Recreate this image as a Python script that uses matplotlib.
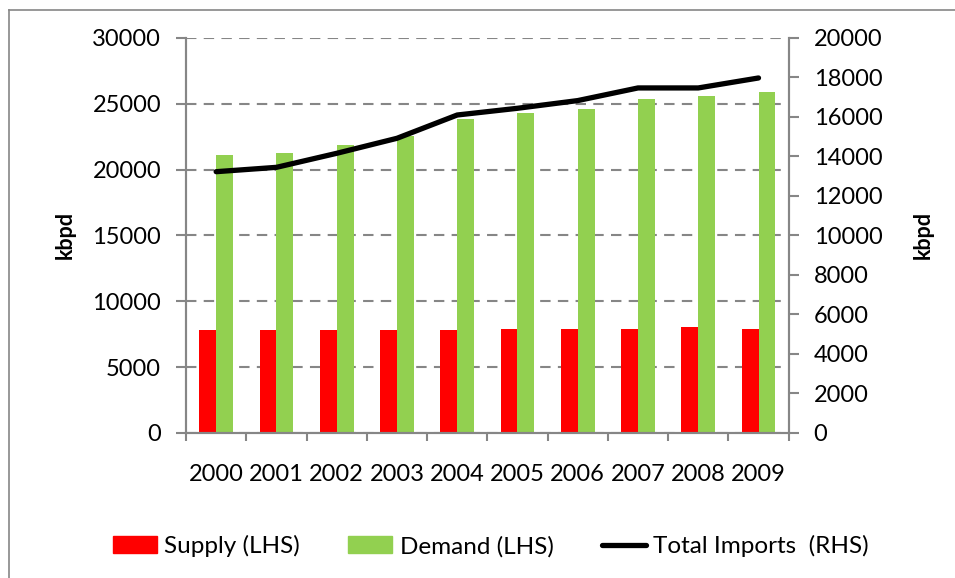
import matplotlib
matplotlib.use("Agg")
import matplotlib.pyplot as plt
import numpy as np
from matplotlib.patches import Rectangle

# ==========================
# Data
# ==========================

years = ["2000", "2001", "2002", "2003", "2004",
         "2005", "2006", "2007", "2008", "2009"]

supply = [7800, 7800, 7800, 7800, 7800, 7930, 7930, 7930, 8080, 7930]

demand = [21080, 21260, 21840, 22550, 23810,
          24270, 24570, 25330, 25630, 25930]

total_imports = [13230, 13450, 14160, 14920, 16100,
                 16440, 16830, 17470, 17470, 17975]

left_ticks = [0, 5000, 10000, 15000, 20000, 25000, 30000]
right_ticks = list(range(0, 20001, 2000))


# ==========================
# Style
# ==========================

plt.rcParams["font.family"] = ["Lato", "DejaVu Sans"]

axis_gray = "#868686"
red = "#FF0000"
green = "#92D050"


# ==========================
# Figure
# ==========================

fig = plt.figure(figsize=(9.55, 5.78), dpi=100)

ax = fig.add_axes([0.1948, 0.2509, 0.631, 0.6834])
ax2 = ax.twinx()

x = np.arange(len(years))
w = 0.28

ax.bar(x - w / 2, supply, width=w, color=red, zorder=2)
ax.bar(x + w / 2, demand, width=w, color=green, zorder=2)

ax2.plot(x, total_imports, color="black", linewidth=3.8,
         solid_capstyle="round", solid_joinstyle="round")


# ==========================
# Axes
# ==========================

ax.set_xlim(-0.5, len(years) - 0.5)
ax.set_ylim(0, 30000)
ax2.set_ylim(0, 20000)

ax.set_yticks(left_ticks)
ax2.set_yticks(right_ticks)

ax.set_xticks(x)
ax.set_xticklabels(years)
ax.set_xticks(np.arange(-0.5, len(years)), minor=True)

ax.tick_params(axis="x", which="major", length=0, pad=22, labelsize=17)
ax.tick_params(axis="x", which="minor", length=6, width=1.5,
               color=axis_gray, direction="out")
ax.tick_params(axis="y", length=7, width=1.5, color=axis_gray,
               pad=11, labelsize=17)
ax2.tick_params(axis="y", length=7, width=1.5, color=axis_gray,
                pad=11, labelsize=17)

for a in (ax, ax2):
    a.spines["top"].set_visible(False)
    for s in ("left", "right", "bottom"):
        a.spines[s].set_color(axis_gray)
        a.spines[s].set_linewidth(1.5)

ax.yaxis.grid(True, color=axis_gray, linestyle=(0, (5, 3.5)), linewidth=1.5)
ax.set_axisbelow(True)

ax.set_ylabel("kbpd", fontsize=15.5, fontweight="bold", labelpad=12)
ax2.set_ylabel("kbpd", fontsize=15.5, fontweight="bold", labelpad=22)


# ==========================
# Legend
# ==========================

handles = [
    Rectangle((0, 0), 1, 1, color=red),
    Rectangle((0, 0), 1, 1, color=green),
    plt.Line2D([0], [0], color="black", linewidth=3.8,
               solid_capstyle="round"),
]

fig.legend(
    handles,
    ["Supply (LHS)", "Demand (LHS)", "Total Imports  (RHS)"],
    loc="center",
    bbox_to_anchor=(0.514, 0.055),
    ncol=3,
    frameon=False,
    fontsize=17.5,
    handlelength=1.8,
    handleheight=0.7,
    handletextpad=0.3,
    columnspacing=2.0,
)


# ==========================
# Border (left and top only)
# ==========================

fig.add_artist(plt.Line2D([9 / 955, 9 / 955], [0, 1 - 10 / 578],
                          transform=fig.transFigure, color=axis_gray,
                          linewidth=1.2))
fig.add_artist(plt.Line2D([9 / 955, 1], [1 - 10 / 578, 1 - 10 / 578],
                          transform=fig.transFigure, color=axis_gray,
                          linewidth=1.2))


fig.savefig("out.png", dpi=100)
